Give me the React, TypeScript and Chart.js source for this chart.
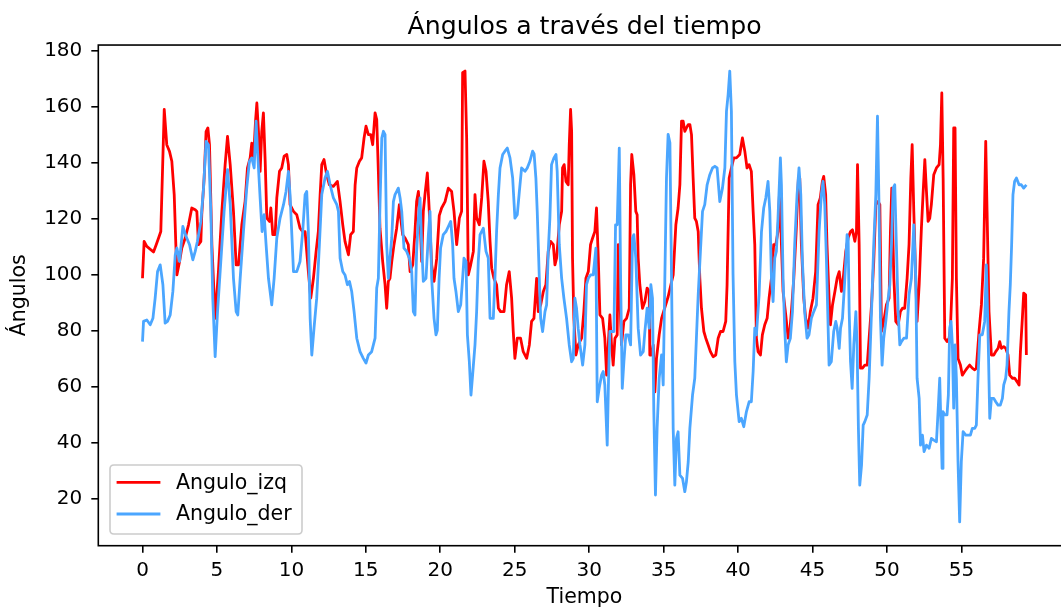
import { useEffect, useRef } from "react";
import { Chart, registerables } from "chart.js";

Chart.register(...registerables);

// ---- Data ----
const tiempoIzq = [
  0, 0.11, 0.29, 0.74, 0.92, 1.08, 1.23, 1.46, 1.63, 1.81, 1.97, 2.13, 2.24, 2.31, 2.49, 2.64, 2.87, 3.09, 3.31, 3.54,
  3.65, 3.76, 3.92, 3.98, 4.14, 4.27, 4.39, 4.5, 4.66, 4.88, 5.1, 5.33, 5.55, 5.71, 5.89, 6.11, 6.29, 6.45, 6.67, 6.89,
  7.05, 7.23, 7.34, 7.45, 7.59, 7.68, 7.79, 7.9, 8.01, 8.12, 8.24, 8.35, 8.53, 8.62, 8.75, 8.91, 9.02, 9.2, 9.35, 9.51,
  9.69, 9.8, 9.91, 10.14, 10.36, 10.58, 10.76, 10.92, 11.14, 11.3, 11.48, 11.66, 11.81, 11.93, 12.04, 12.19, 12.37, 12.55, 12.82, 13.09,
  13.27, 13.45, 13.6, 13.83, 13.98, 14.16, 14.28, 14.39, 14.57, 14.72, 14.88, 15.01, 15.17, 15.33, 15.46, 15.62, 15.73, 15.84, 15.95, 16.13,
  16.29, 16.4, 16.51, 16.62, 16.74, 16.89, 17.07, 17.25, 17.34, 17.47, 17.63, 17.85, 17.97, 18.15, 18.3, 18.41, 18.53, 18.64, 18.75, 18.86,
  18.97, 19.13, 19.26, 19.42, 19.58, 19.76, 19.93, 20.09, 20.32, 20.54, 20.76, 20.92, 21.1, 21.28, 21.43, 21.5, 21.66, 21.77, 21.88, 22.04,
  22.22, 22.33, 22.44, 22.62, 22.78, 22.93, 23.07, 23.22, 23.34, 23.45, 23.6, 23.78, 23.9, 24.05, 24.28, 24.45, 24.63, 24.79, 24.9, 25.01,
  25.17, 25.39, 25.57, 25.8, 25.98, 26.13, 26.29, 26.47, 26.58, 26.74, 26.92, 27.09, 27.25, 27.41, 27.59, 27.7, 27.81, 27.99, 28.15, 28.21,
  28.32, 28.44, 28.59, 28.66, 28.75, 28.82, 28.88, 28.97, 29.11, 29.26, 29.49, 29.64, 29.78, 29.94, 30.09, 30.23, 30.38, 30.49, 30.61, 30.72,
  30.9, 31.05, 31.17, 31.28, 31.39, 31.5, 31.61, 31.73, 31.88, 31.95, 32.06, 32.17, 32.33, 32.51, 32.69, 32.78, 32.86, 33.0, 33.13, 33.22,
  33.29, 33.4, 33.58, 33.74, 33.89, 34.03, 34.07, 34.18, 34.3, 34.41, 34.52, 34.7, 34.86, 35.3, 35.64, 35.82, 35.97, 36.09, 36.2, 36.31,
  36.42, 36.53, 36.65, 36.76, 36.87, 36.98, 37.09, 37.2, 37.32, 37.43, 37.54, 37.7, 37.83, 37.99, 38.14, 38.32, 38.5, 38.66, 38.82, 38.99,
  39.17, 39.26, 39.4, 39.55, 39.71, 39.89, 40.11, 40.29, 40.45, 40.6, 40.74, 40.89, 41.01, 41.12, 41.23, 41.34, 41.5, 41.63, 41.79, 41.95,
  42.08, 42.24, 42.39, 42.53, 42.68, 42.8, 42.91, 43.02, 43.2, 43.36, 43.47, 43.58, 43.74, 43.91, 44.05, 44.14, 44.25, 44.41, 44.54, 44.7,
  44.85, 45.03, 45.21, 45.37, 45.52, 45.66, 45.75, 45.88, 45.97, 46.11, 46.2, 46.34, 46.5, 46.65, 46.79, 46.94, 47.06, 47.23, 47.39, 47.55,
  47.68, 47.84, 47.95, 48.02, 48.13, 48.22, 48.35, 48.51, 48.67, 48.8, 48.96, 49.11, 49.25, 49.4, 49.52, 49.63, 49.78, 49.96, 50.14, 50.23,
  50.32, 50.46, 50.59, 50.75, 50.9, 51.04, 51.19, 51.35, 51.48, 51.6, 51.69, 51.8, 51.93, 52.02, 52.16, 52.31, 52.42, 52.54, 52.65, 52.76,
  52.87, 52.98, 53.14, 53.32, 53.5, 53.59, 53.68, 53.77, 53.88, 54.03, 54.17, 54.26, 54.39, 54.48, 54.57, 54.66, 54.77, 54.93, 55.06, 55.22,
  55.38, 55.55, 55.73, 55.89, 56.0, 56.18, 56.34, 56.49, 56.63, 56.72, 56.85, 57.01, 57.17, 57.3, 57.46, 57.57, 57.68, 57.84, 57.97, 58.13,
  58.24, 58.42, 58.58, 58.73, 58.87, 58.96, 59.09, 59.18, 59.31, 59.36,
];
const anguloIzq = [
  98.6, 111.8, 110, 108, 110.6, 113, 115.3, 158.9, 146.3, 144, 140.4, 128.5, 110.6, 99.8, 104.6, 109.4, 113, 117.7, 123.7, 123.1,
  122.5, 110.6, 111.8, 121.3, 134.4, 151, 152.3, 146.3, 110.6, 84.3, 101, 122.5, 139.2, 149.3, 139.2, 122.5, 103.4, 103.4, 117.7, 126,
  138, 141.6, 146.9, 140.4, 154.7, 161.2, 151.1, 136.8, 151.1, 157.7, 140.4, 120.1, 118.9, 123.7, 114.2, 114.2, 127.3, 136.8, 138, 142.2,
  142.8, 139.2, 124.9, 122.5, 121.3, 116.5, 115.3, 115.3, 101, 91.5, 98.6, 108.2, 115.3, 128.5, 139.2, 141, 135.6, 132, 131.4, 133.2,
  126, 117.7, 111.8, 107, 114.2, 115.3, 132, 138, 140.4, 141.6, 148.7, 152.9, 149.9, 149.9, 146.3, 157.7, 155.3, 136.8, 116.5, 104.6,
  96.3, 87.9, 97.5, 98.6, 104.6, 110.6, 116.5, 124.9, 120.1, 114.2, 113, 110.6, 101, 103.4, 115.3, 126, 129.6, 120.1, 104.6, 122.5,
  128.5, 136.2, 122.5, 103.4, 97.5, 105.8, 121, 123.7, 126, 130.8, 129.6, 122.5, 110.6, 120.1, 122.5, 172, 172.6, 148.7, 99.8, 103.4,
  108.2, 128.5, 120.1, 117.7, 127.3, 140.4, 136.8, 126, 111.8, 102.2, 98.6, 96.3, 87.9, 86.7, 86.7, 96.3, 101, 91.5, 79.6, 70,
  77.2, 77.2, 72.4, 70, 74.8, 83.2, 84.3, 98.6, 86.7, 89.1, 93.9, 96.3, 108.2, 111.8, 110.6, 103.4, 105.8, 117.7, 122.5, 138,
  139.2, 133.2, 132, 146.3, 158.9, 151.1, 105.8, 84.3, 71.2, 74.8, 77.2, 86.7, 98.6, 101, 110.6, 113, 115.3, 123.7, 105.8, 85.5,
  84.3, 77.2, 64, 74.8, 85.5, 74.8, 67.6, 77.2, 78.4, 110.6, 91.5, 74.8, 83.2, 84.3, 87.9, 132, 142.8, 135.6, 122.5, 121.3,
  105.8, 96.3, 87.9, 90.3, 95.1, 93.9, 71.2, 71.2, 74.8, 58, 70, 78.4, 84.3, 92, 99.8, 117.7, 123.7, 132, 154.7, 154.7,
  151.1, 152.3, 153.5, 153.5, 149.9, 134.4, 120.1, 118.9, 115.3, 98.6, 87.9, 79.6, 77.2, 74.8, 72.4, 70.6, 71.2, 77.2, 79.6, 79.6,
  83.2, 96.3, 134.4, 138, 141.6, 141.6, 142.8, 148.7, 144, 138, 139.2, 136.8, 122.5, 110.6, 77.2, 72.4, 71.2, 78.4, 82, 84.3,
  91.5, 98.6, 110.6, 110.6, 115.3, 132, 110.6, 93.9, 85.5, 77.2, 79.6, 86.7, 98.6, 116.5, 134.4, 134.4, 110.6, 91.5, 84.3, 80.8,
  86.7, 91.5, 101, 124.9, 127.3, 133.2, 135, 128.5, 110.6, 91.5, 82, 89.1, 93.9, 98.6, 101, 93.9, 98.6, 108.2, 113, 115.3,
  115.9, 111.8, 115.3, 139.2, 110.6, 66.5, 66.5, 67.6, 67.6, 77.2, 89.1, 104.6, 124.9, 126, 124.9, 79.6, 83.2, 89.1, 91.5, 115.3,
  130.8, 98.6, 83.2, 82, 86.7, 87.9, 87.9, 98.6, 110.6, 134.4, 146.3, 122.5, 98.6, 83.2, 96.3, 116.5, 128.5, 141, 129.6, 118.9,
  120, 125, 135.6, 138, 139.2, 146.3, 164.8, 134.4, 77.2, 76, 77.2, 80.8, 98.6, 152.3, 152.3, 98.6, 70, 67.6, 64, 65.3,
  66.5, 67.6, 66.5, 65.9, 66.5, 79.6, 89.1, 105.8, 147.5, 122.5, 86.7, 71.2, 71.2, 72.4, 73.6, 76, 73.6, 74.2, 73.6, 71.2,
  64, 62.9, 62.9, 61.7, 60.5, 72.4, 84.3, 93.3, 92.7, 71.2,
];

const tiempoDer = [
  0, 0.07, 0.29, 0.52, 0.7, 0.85, 1.01, 1.19, 1.37, 1.52, 1.68, 1.86, 2.04, 2.2, 2.31, 2.49, 2.71, 2.93, 3.16, 3.38,
  3.54, 3.69, 3.92, 4.1, 4.27, 4.43, 4.59, 4.72, 4.88, 5.04, 5.26, 5.48, 5.71, 5.89, 6.11, 6.29, 6.4, 6.56, 6.78, 7.0,
  7.18, 7.34, 7.5, 7.63, 7.74, 7.9, 8.03, 8.17, 8.3, 8.46, 8.68, 8.84, 9.02, 9.24, 9.47, 9.64, 9.8, 9.91, 10.03, 10.14,
  10.36, 10.58, 10.76, 10.92, 11.03, 11.14, 11.26, 11.37, 11.52, 11.7, 11.88, 12.04, 12.26, 12.42, 12.6, 12.82, 13.05, 13.16, 13.27, 13.45,
  13.6, 13.76, 13.9, 14.05, 14.21, 14.39, 14.61, 14.83, 15.01, 15.17, 15.39, 15.62, 15.73, 15.84, 15.95, 16.07, 16.18, 16.29, 16.4, 16.51,
  16.62, 16.74, 16.85, 16.96, 17.07, 17.18, 17.3, 17.41, 17.56, 17.74, 17.92, 18.08, 18.19, 18.3, 18.41, 18.53, 18.64, 18.75, 18.86, 19.04,
  19.2, 19.31, 19.42, 19.58, 19.71, 19.8, 19.92, 20.02, 20.2, 20.38, 20.54, 20.7, 20.83, 20.92, 21.05, 21.21, 21.37, 21.5, 21.59, 21.73,
  21.82, 21.95, 22.06, 22.17, 22.33, 22.44, 22.55, 22.67, 22.78, 22.89, 23.07, 23.22, 23.34, 23.56, 23.67, 23.78, 23.9, 24.01, 24.19, 24.34,
  24.5, 24.68, 24.86, 25.01, 25.17, 25.31, 25.46, 25.69, 25.84, 26.02, 26.2, 26.3, 26.42, 26.51, 26.65, 26.74, 26.87, 27.03, 27.14, 27.25,
  27.36, 27.47, 27.63, 27.77, 27.85, 27.99, 28.15, 28.3, 28.48, 28.66, 28.82, 28.93, 29.04, 29.15, 29.26, 29.38, 29.56, 29.71, 29.82, 29.94,
  30.09, 30.27, 30.45, 30.54, 30.67, 30.83, 30.94, 31.05, 31.21, 31.3, 31.39, 31.66, 31.77, 31.88, 32.02, 32.11, 32.22, 32.33, 32.46, 32.62,
  32.78, 32.91, 33.0, 33.13, 33.29, 33.45, 33.63, 33.74, 33.89, 34.03, 34.14, 34.25, 34.34, 34.45, 34.56, 34.7, 34.86, 34.97, 35.08, 35.19,
  35.3, 35.42, 35.53, 35.64, 35.75, 35.86, 35.97, 36.09, 36.27, 36.42, 36.53, 36.65, 36.76, 36.94, 37.09, 37.2, 37.32, 37.47, 37.61, 37.76,
  37.92, 38.1, 38.28, 38.44, 38.59, 38.77, 38.95, 39.11, 39.22, 39.33, 39.44, 39.55, 39.66, 39.78, 39.89, 40.07, 40.22, 40.38, 40.56, 40.74,
  40.89, 41.01, 41.12, 41.23, 41.41, 41.57, 41.72, 41.86, 42.01, 42.13, 42.24, 42.35, 42.46, 42.57, 42.68, 42.84, 42.91, 43.02, 43.13, 43.24,
  43.36, 43.51, 43.65, 43.8, 43.96, 44.09, 44.21, 44.32, 44.47, 44.63, 44.76, 44.92, 45.08, 45.26, 45.44, 45.59, 45.7, 45.82, 45.93, 46.11,
  46.26, 46.42, 46.56, 46.65, 46.79, 46.88, 47.01, 47.17, 47.32, 47.39, 47.46, 47.55, 47.66, 47.77, 47.91, 47.99, 48.08, 48.17, 48.29, 48.4,
  48.51, 48.67, 48.8, 48.96, 49.11, 49.25, 49.36, 49.47, 49.56, 49.67, 49.78, 49.92, 50.08, 50.19, 50.3, 50.41, 50.52, 50.63, 50.75, 50.86,
  50.97, 51.13, 51.31, 51.48, 51.64, 51.8, 51.93, 52.02, 52.16, 52.25, 52.38, 52.49, 52.65, 52.83, 52.98, 53.14, 53.32, 53.43, 53.54, 53.61,
  53.7, 53.76, 53.88, 54.03, 54.12, 54.21, 54.3, 54.39, 54.48, 54.57, 54.66, 54.77, 54.88, 54.99, 55.11, 55.29, 55.44, 55.6, 55.73, 55.89,
  56.0, 56.11, 56.23, 56.4, 56.56, 56.67, 56.78, 56.9, 57.01, 57.17, 57.3, 57.46, 57.61, 57.75, 57.84, 57.97, 58.06, 58.19, 58.28, 58.37,
  58.46, 58.57, 58.69, 58.87, 59.02, 59.18, 59.36,
];
const anguloDer = [
  76, 83.2, 83.7, 82, 84.3, 91.5, 101, 103.4, 96.3, 82.6, 83.2, 85.5, 93.9, 107, 109.4, 104.6, 117.1, 113.5, 110.6, 105.2,
  108.2, 111.8, 118.9, 130.8, 147.5, 146.3, 122.5, 91.5, 70.6, 86.7, 104.6, 122.5, 137.4, 124.9, 98.6, 86.7, 85.5, 98.6, 115.3, 130.8,
  140.4, 141.6, 138, 154.7, 142.8, 127.3, 115.3, 121.3, 110.6, 98.6, 89.1, 98.6, 113, 120.1, 124.9, 129.6, 136.8, 128.5, 114.2, 101,
  101, 104.6, 115.3, 128.5, 129.6, 115.3, 84.3, 71.2, 80.8, 91.5, 110.6, 128.5, 134.4, 136.8, 132, 127.3, 124.9, 122.5, 105.8, 101,
  99.8, 96.3, 97.5, 93.9, 86.7, 77.2, 72.4, 70, 68.3, 71.2, 72.4, 77.2, 95.1, 98.6, 124.9, 148.7, 151.1, 149.9, 110.6, 98.6,
  105.8, 113, 126, 128.5, 129.6, 130.8, 127.3, 122.5, 109.4, 108.2, 105.8, 101, 86.7, 85.5, 108.2, 120.1, 127.3, 110.6, 97.5, 98.6,
  114.2, 122.5, 98.6, 84.3, 78.4, 80, 98.6, 109.4, 114.2, 115.3, 117.1, 118.9, 110.6, 98.6, 93.9, 86.7, 89.1, 98.6, 105.8, 104.6,
  78.4, 68.8, 56.9, 64, 74.8, 86.7, 104.6, 114.2, 115.3, 116.5, 108.2, 105.8, 84.3, 84.3, 98.6, 115.3, 128.5, 138, 142.8, 144,
  145.1, 141.6, 134.4, 120.1, 121.3, 129.6, 138, 136.8, 138, 140.4, 144, 143, 134.4, 122.5, 98.6, 84.3, 79.6, 86.7, 89.1, 108.2,
  120.1, 139.2, 141.6, 142.8, 136.8, 110.6, 98.6, 91.5, 84.3, 74.8, 68.8, 70, 91.5, 87.9, 80.8, 74.8, 67.6, 74.8, 96.3, 98.6,
  99.8, 99.8, 109.4, 54.5, 59.3, 64, 65.3, 60.5, 39, 62.9, 79.6, 79.6, 117.7, 117.7, 145.1, 98.6, 59.3, 68.8, 78.4, 78.4,
  74.8, 113, 114.2, 105.8, 80.8, 71.2, 72.4, 79.6, 87.9, 80.8, 96.3, 91.5, 51, 21.2, 45, 62.9, 71.2, 60.5, 98.6, 134.4,
  150, 147, 98.6, 45, 24.7, 41.4, 43.8, 28.3, 27.1, 22.4, 25.9, 33, 45, 56.9, 62.9, 77.2, 92.7, 108.2, 122.5, 124.9,
  132, 135.6, 138, 138.6, 138, 126, 130.8, 138, 158.3, 164.2, 172.6, 158.3, 100, 68.8, 56.9, 47.4, 48.6, 45.6, 51, 54.5,
  54.5, 65.3, 80.8, 78.4, 92.7, 115.3, 123.7, 127.3, 133.2, 122.5, 98.6, 90.3, 105.8, 108.2, 120.1, 141.6, 132, 98.6, 80.8, 68.8,
  74.8, 77.2, 86.7, 110.6, 128.5, 138, 128.5, 104.6, 86.7, 77.2, 78.4, 84.3, 86.7, 89.1, 115.3, 128.5, 133.2, 124.9, 105.8, 67.6,
  68.8, 79.6, 83.2, 80.8, 73.6, 80.8, 84.3, 98.6, 114.2, 113, 86.7, 68.8, 59.3, 74.8, 86.7, 74.8, 45, 24.7, 31.9, 46.2,
  47.4, 49.8, 62.9, 86.7, 110.6, 128.5, 156.5, 122.5, 84.3, 67.6, 77.2, 83.2, 91.5, 96.3, 110.6, 130.8, 132, 110.6, 86.7, 74.8,
  76, 77.2, 77.2, 92.7, 98.6, 117.7, 98.6, 62.9, 55.7, 39, 42.6, 36.7, 39, 37.9, 41.4, 40.8, 40.2, 51, 62.9, 48.6,
  30.7, 51, 49.8, 49.8, 56.9, 80.8, 83.2, 74.8, 52.2, 74.8, 62.9, 33, 11.6, 33, 43.8, 42.6, 42.6, 42.6, 45, 45,
  46.2, 62.9, 78.4, 78.4, 83.2, 103.4, 80.8, 48.6, 55.7, 55.7, 54.5, 53.3, 53.3, 55.7, 60.5, 62.9, 67.6, 86.7, 96.3, 110.6,
  128.5, 133.2, 134.4, 132, 132, 130.8, 132,
];

const xTicks = [0, 5, 10, 15, 20, 25, 30, 35, 40, 45, 50, 55];
const yTicks = [20, 40, 60, 80, 100, 120, 140, 160, 180];
const seriesLabels = ["Angulo_izq", "Angulo_der"];
const seriesColors = ["#ff0000", "#4ba6ff"];
const titleText = "Ángulos a través del tiempo";
const xLabel = "Tiempo";
const yLabel = "Ángulos";

const FONT = "'DejaVu Sans', 'Liberation Sans', sans-serif";

const toPoints = (xs: number[], ys: number[]) => xs.map((x, i) => ({ x, y: ys[i] }));

export default function App() {
  const ref = useRef<HTMLCanvasElement | null>(null);

  useEffect(() => {
    const canvas = ref.current;
    if (!canvas) return;

    const framePlugin = {
      id: "mplFrameLegend",
      afterDraw(chart: any) {
        const { ctx, chartArea } = chart;
        const { left, right, top, bottom } = chartArea;
        ctx.save();
        // spines
        ctx.strokeStyle = "#000";
        ctx.lineWidth = 1.6;
        ctx.strokeRect(left, top, right - left, bottom - top);

        // legend (lower left, inside axes)
        const fs = 20.5;
        const bw = 192;
        const bh = 69;
        const bx = left + 11.7;
        const by = bottom - 11.7 - bh;
        const r = 4;
        ctx.beginPath();
        ctx.moveTo(bx + r, by);
        ctx.lineTo(bx + bw - r, by);
        ctx.quadraticCurveTo(bx + bw, by, bx + bw, by + r);
        ctx.lineTo(bx + bw, by + bh - r);
        ctx.quadraticCurveTo(bx + bw, by + bh, bx + bw - r, by + bh);
        ctx.lineTo(bx + r, by + bh);
        ctx.quadraticCurveTo(bx, by + bh, bx, by + bh - r);
        ctx.lineTo(bx, by + r);
        ctx.quadraticCurveTo(bx, by, bx + r, by);
        ctx.closePath();
        ctx.fillStyle = "rgba(255,255,255,0.8)";
        ctx.fill();
        ctx.strokeStyle = "#cccccc";
        ctx.lineWidth = 1.6;
        ctx.stroke();

        chart.data.datasets.forEach((ds: any, i: number) => {
          const y = by + 17.3 + i * 31.7;
          ctx.beginPath();
          ctx.strokeStyle = ds.borderColor;
          ctx.lineWidth = 2.8;
          ctx.lineCap = "square";
          ctx.moveTo(bx + 8, y);
          ctx.lineTo(bx + 49, y);
          ctx.stroke();
          ctx.fillStyle = "#000";
          ctx.font = `${fs}px ${FONT}`;
          ctx.textAlign = "left";
          ctx.textBaseline = "middle";
          ctx.fillText(ds.label, bx + 66, y + 1);
        });
        ctx.restore();
      },
    };

    const chart = new Chart(canvas, {
      type: "line",
      data: {
        datasets: [
          {
            label: seriesLabels[0],
            data: toPoints(tiempoIzq, anguloIzq),
            borderColor: seriesColors[0],
            backgroundColor: seriesColors[0],
            borderWidth: 2.8,
            pointRadius: 0,
            tension: 0,
            fill: false,
            borderJoinStyle: "round",
            order: 1,
          },
          {
            label: seriesLabels[1],
            data: toPoints(tiempoDer, anguloDer),
            borderColor: seriesColors[1],
            backgroundColor: seriesColors[1],
            borderWidth: 2.8,
            pointRadius: 0,
            tension: 0,
            fill: false,
            borderJoinStyle: "round",
            order: 0,
          },
        ],
      },
      options: {
        responsive: false,
        animation: false,
        devicePixelRatio: 1,
        layout: { padding: { left: 0, right: 0, top: 0, bottom: 0 } },
        plugins: {
          legend: { display: false },
          tooltip: { enabled: false },
          title: {
            display: true,
            text: titleText,
            color: "#000",
            font: { family: FONT, size: 25.2, weight: "normal", lineHeight: 1.2 },
            padding: { top: 12.6, bottom: 2.2 },
          },
        },
        scales: {
          x: {
            type: "linear",
            min: -2.968,
            max: 62.33,
            afterBuildTicks: (s: any) => {
              s.ticks = xTicks.map((v) => ({ value: v }));
            },
            afterFit: (s: any) => {
              s.height = 66.3;
            },
            ticks: {
              color: "#000",
              font: { family: FONT, size: 20 },
              padding: 6.5,
              maxRotation: 0,
              autoSkip: false,
            },
            grid: {
              display: true,
              drawOnChartArea: false,
              drawTicks: true,
              tickLength: 7,
              color: "#000",
              lineWidth: 1.6,
            },
            border: { display: false },
            title: {
              display: true,
              text: xLabel,
              color: "#000",
              font: { family: FONT, size: 20.5, lineHeight: 1.2 },
              padding: { top: 0, bottom: 1.7 },
            },
          },
          y: {
            type: "linear",
            position: "left",
            min: 3.1,
            max: 181.9,
            afterBuildTicks: (s: any) => {
              s.ticks = yTicks.map((v) => ({ value: v }));
            },
            afterFit: (s: any) => {
              s.width = 98.3;
            },
            ticks: {
              color: "#000",
              font: { family: FONT, size: 20 },
              padding: 9,
              autoSkip: false,
            },
            grid: {
              display: true,
              drawOnChartArea: false,
              drawTicks: true,
              tickLength: 7,
              color: "#000",
              lineWidth: 1.6,
            },
            border: { display: false },
            title: {
              display: true,
              text: yLabel,
              color: "#000",
              font: { family: FONT, size: 20.5, lineHeight: 1.2 },
              padding: { top: 7.5, bottom: 0 },
            },
          },
          // empty right-hand box: keeps the axes (and title) centred like the figure
          yRight: {
            type: "linear",
            position: "right",
            display: true,
            min: 0,
            max: 1,
            ticks: { display: false },
            grid: { display: false },
            border: { display: false },
            title: { display: false },
            afterFit: (s: any) => {
              s.width = 98.4;
            },
          },
        },
      },
      plugins: [framePlugin],
    } as any);

    return () => chart.destroy();
  }, []);

  return (
    <div
      style={{
        position: "fixed",
        left: 0,
        top: 0,
        width: 1061,
        height: 612,
        overflow: "hidden",
        background: "#fff",
      }}
    >
      <canvas ref={ref} width={1169} height={612} style={{ display: "block", width: 1169, height: 612 }} />
    </div>
  );
}
